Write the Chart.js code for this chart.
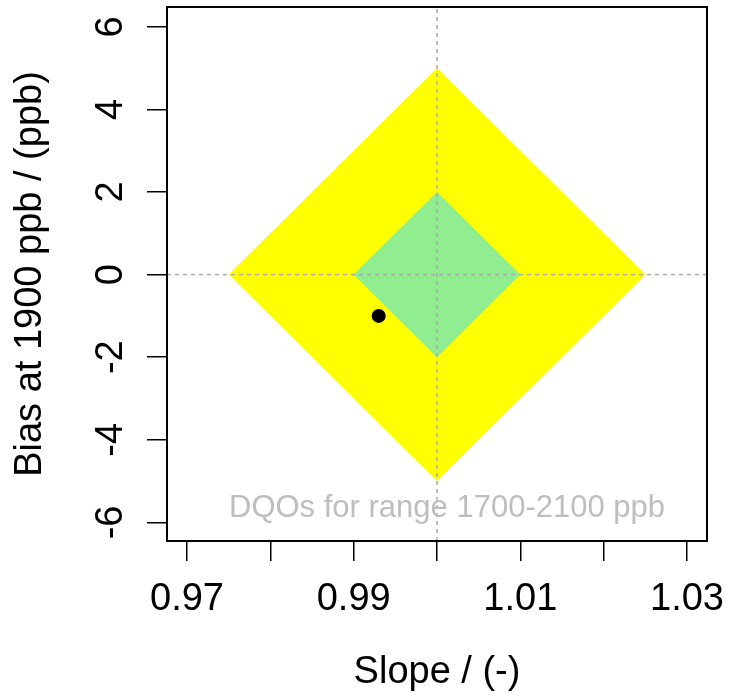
<!DOCTYPE html>
<html>
<head>
<meta charset="utf-8">
<script src="https://cdn.jsdelivr.net/npm/chart.js@4"></script>
<style>
  html, body { margin: 0; padding: 0; background: #fff; }
</style>
</head>
<body>
<canvas id="dqoChart" width="731" height="699"></canvas>
<script>
// DQO diamonds (slope, bias) and the measured point
const outerSlope = [0.975, 1.000, 1.025, 1.000, 0.975];
const outerBias  = [0, 5, 0, -5, 0];
const innerSlope = [0.990, 1.000, 1.010, 1.000, 0.990];
const innerBias  = [0, 2, 0, -2, 0];
const pointSlope = [0.993];
const pointBias  = [-1.0];

// axes
const xTicks  = [0.97, 0.98, 0.99, 1.00, 1.01, 1.02, 1.03];
const xLabels = ['0.97', '', '0.99', '', '1.01', '', '1.03'];
const yTicks  = [-6, -4, -2, 0, 2, 4, 6];
const xRange  = [0.9676, 1.0324];
const yRange  = [-6.45, 6.48];
const refSlope = 1;
const refBias  = 0;
const noteText = 'DQOs for range 1700-2100 ppb';

const FONT = "'Liberation Sans', Arial, Helvetica, sans-serif";
const notePos = { x: 1.0012, y: -5.87 };

function pts(xs, ys) {
    return xs.map((x, i) => ({ x: x, y: ys[i] }));
}

// R-style box, rotated y labels and the note
const rStyle = {
    id: 'rStyle',
    afterDraw(chart) {
        const ctx = chart.ctx;
        const ca = chart.chartArea;
        const xs = chart.scales.x;
        const ys = chart.scales.y;
        ctx.save();
        ctx.strokeStyle = '#000';
        ctx.lineWidth = 2;
        ctx.strokeRect(ca.left, ca.top, ca.right - ca.left, ca.bottom - ca.top);

        ctx.fillStyle = '#000';
        ctx.font = '38px ' + FONT;
        ctx.textAlign = 'center';
        ctx.textBaseline = 'alphabetic';
        yTicks.forEach(v => {
            ctx.save();
            ctx.translate(ca.left - 45, ys.getPixelForValue(v));
            ctx.rotate(-Math.PI / 2);
            ctx.fillText(String(v), 0, 0);
            ctx.restore();
        });

        ctx.fillStyle = '#bebebe';
        ctx.font = '31px ' + FONT;
        ctx.fillText(noteText, xs.getPixelForValue(notePos.x), ys.getPixelForValue(notePos.y));
        ctx.restore();
    }
};

const gridOpts = {
    drawOnChartArea: false,
    drawTicks: true,
    tickLength: 20,
    color: '#000',
    lineWidth: 1.5
};

new Chart(document.getElementById('dqoChart').getContext('2d'), {
    type: 'scatter',
    data: {
        datasets: [
            {
                data: pts(pointSlope, pointBias),
                order: 0,
                pointRadius: 7,
                pointBackgroundColor: '#000',
                pointBorderWidth: 0,
                showLine: false
            },
            {
                data: pts([refSlope, refSlope], yRange),
                order: 1,
                showLine: true,
                borderColor: '#aaaaaa',
                borderWidth: 1.5,
                borderDash: [4, 4],
                pointRadius: 0,
                fill: false
            },
            {
                data: pts(xRange, [refBias, refBias]),
                order: 1,
                showLine: true,
                borderColor: '#aaaaaa',
                borderWidth: 1.5,
                borderDash: [4, 4],
                pointRadius: 0,
                fill: false
            },
            {
                data: pts(innerSlope, innerBias),
                order: 2,
                showLine: true,
                borderWidth: 0,
                borderColor: 'rgba(0,0,0,0)',
                backgroundColor: '#90ee90',
                pointRadius: 0,
                tension: 0,
                fill: 'shape'
            },
            {
                data: pts(outerSlope, outerBias),
                order: 3,
                showLine: true,
                borderWidth: 0,
                borderColor: 'rgba(0,0,0,0)',
                backgroundColor: '#ffff00',
                pointRadius: 0,
                tension: 0,
                fill: 'shape'
            }
        ]
    },
    options: {
        responsive: false,
        animation: false,
        layout: { padding: { top: 5, right: 24, left: 0, bottom: 0 } },
        plugins: {
            legend: { display: false },
            tooltip: { enabled: false }
        },
        scales: {
            x: {
                type: 'linear',
                min: xRange[0],
                max: xRange[1],
                afterBuildTicks: scale => { scale.ticks = xTicks.map(v => ({ value: v })); },
                afterFit: scale => {
                    scale.height = 158;
                    scale.paddingLeft = 0;
                    scale.paddingRight = 0;
                },
                ticks: {
                    autoSkip: false,
                    maxRotation: 0,
                    padding: 16,
                    color: '#000',
                    font: { family: FONT, size: 38 },
                    callback: (v, i) => xLabels[i]
                },
                grid: gridOpts,
                border: { display: false },
                title: {
                    display: true,
                    text: 'Slope / (-)',
                    color: '#000',
                    font: { family: FONT, size: 38 },
                    padding: { top: 0, bottom: 4 }
                }
            },
            y: {
                type: 'linear',
                min: yRange[0],
                max: yRange[1],
                afterBuildTicks: scale => { scale.ticks = yTicks.map(v => ({ value: v })); },
                afterFit: scale => {
                    scale.width = 167;
                    scale.paddingTop = 0;
                    scale.paddingBottom = 0;
                },
                ticks: {
                    color: 'rgba(0,0,0,0)',
                    font: { family: FONT, size: 2 }
                },
                grid: gridOpts,
                border: { display: false },
                title: {
                    display: true,
                    text: 'Bias at 1900 ppb / (ppb)',
                    color: '#000',
                    font: { family: FONT, size: 38 },
                    padding: { top: 8, bottom: 0 }
                }
            }
        }
    },
    plugins: [rStyle]
});
</script>
</body>
</html>
